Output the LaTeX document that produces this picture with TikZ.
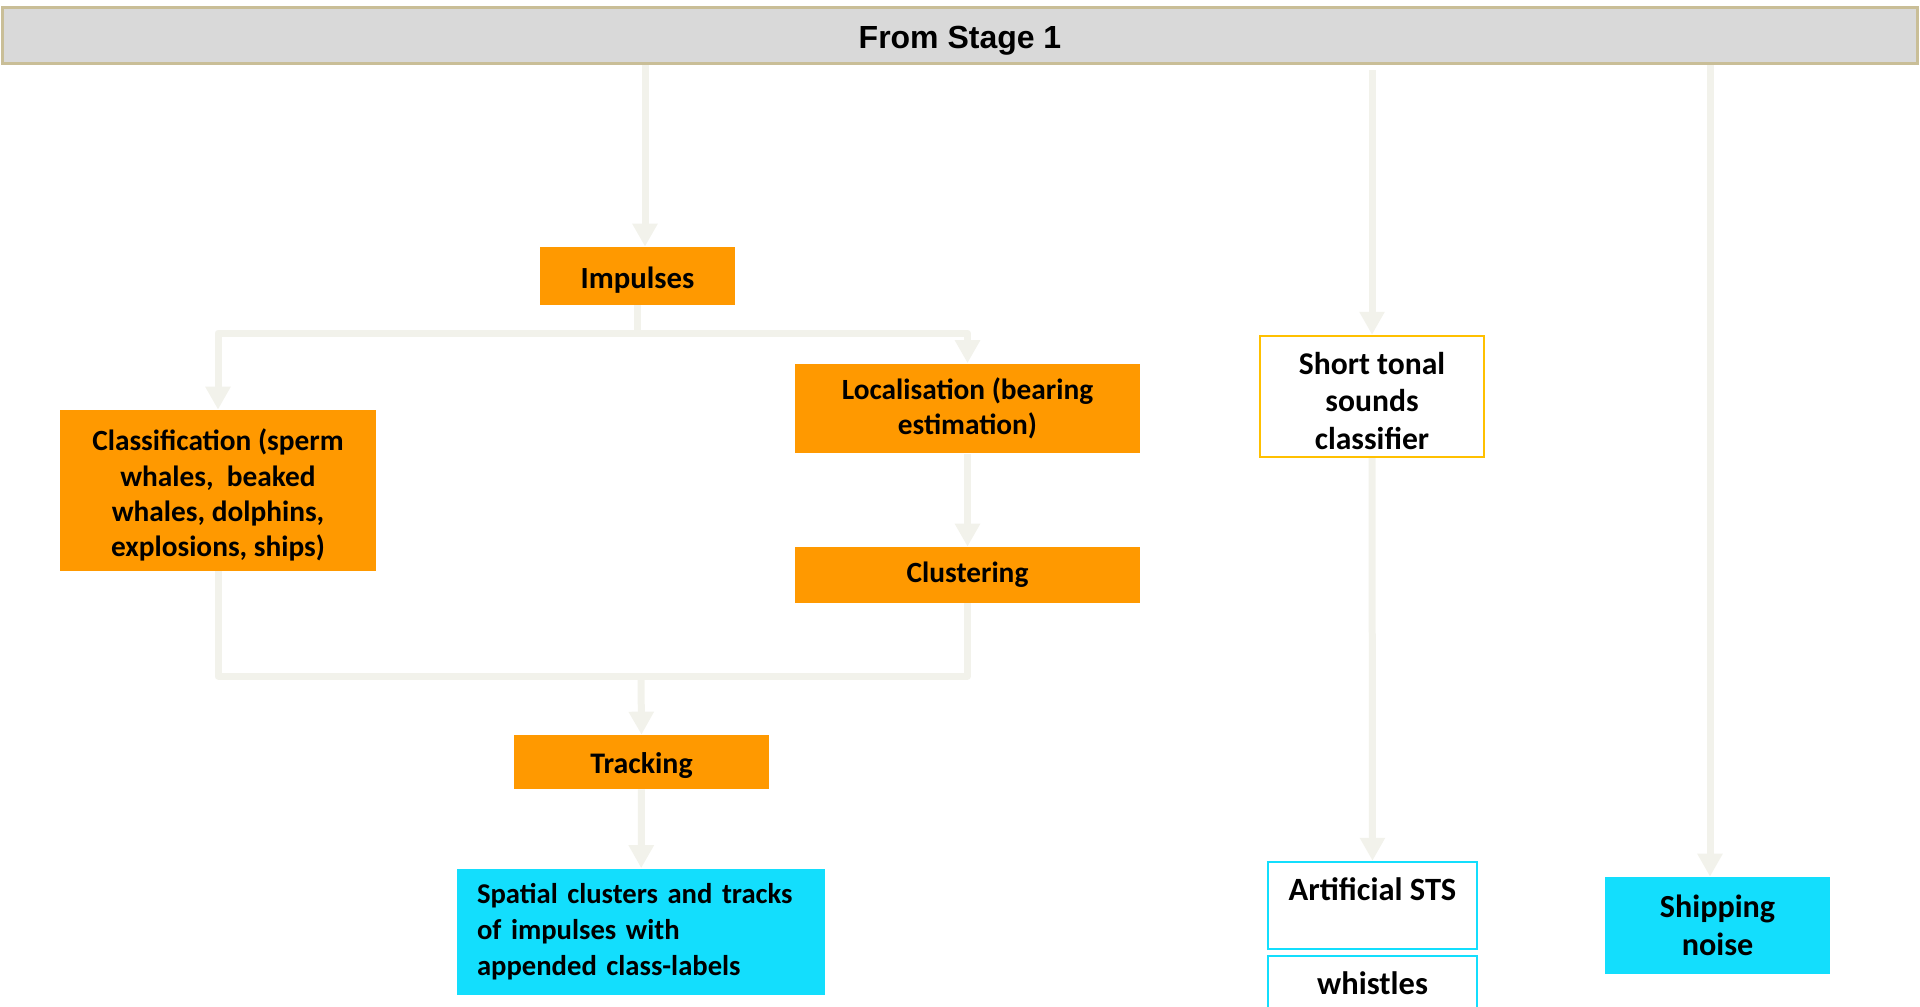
\documentclass[tikz,border=0pt]{standalone}
\usepackage{fontspec}
\setmainfont{Carlito}
\newfontfamily\headfont{Liberation Sans}
\usetikzlibrary{arrows.meta}

\definecolor{boxorange}{HTML}{FF9900}
\definecolor{boxcyan}{HTML}{13DEFD}
\definecolor{flowgray}{HTML}{F2F2EB}
\definecolor{headfill}{HTML}{D9D9D9}
\definecolor{headline}{HTML}{C9BE97}
\definecolor{stsline}{HTML}{FFC000}

\tikzset{
  stage/.style={fill=boxorange, inner sep=0pt, align=center, font=\fontsize{16.7}{20}\selectfont\bfseries},
  result/.style={fill=boxcyan, inner sep=0pt, align=center, font=\fontsize{18.3}{22}\selectfont\bfseries},
  outline/.style={draw=boxcyan, line width=0.05cm, fill=white, inner xsep=0pt, inner ysep=0.22cm,
    text height=0.55cm, text depth=0.75cm, font=\fontsize{18.5}{20}\selectfont\bfseries},
  flow/.style={draw=flowgray, line width=0.14cm, line join=round, -{Triangle[width=0.48cm,length=0.46cm]}},
  link/.style={draw=flowgray, line width=0.14cm, line join=round}
}

\begin{document}
\begin{tikzpicture}[x=0.02cm, y=-0.02cm]
    \useasboundingbox (0,0) rectangle (1920,1007);

    % Header
    \node[draw=headline, line width=0.06cm, fill=headfill, minimum width=38.3cm, minimum height=1.14cm,
      font=\headfont\fontsize{18.2}{20}\selectfont\bfseries] (header) at (960,35.5) {\rule{0pt}{0.66cm}From Stage 1};

    % Impulse branch
    \node[stage, minimum width=3.9cm, minimum height=1.16cm, font=\fontsize{17.5}{20}\selectfont\bfseries] (impulses) at (637.5,276) {\rule{0pt}{0.6cm}Impulses};
    \node[stage, minimum width=6.32cm, minimum height=3.22cm] (classif) at (218,490.5) {\rule{0pt}{0.62cm}Classification (sperm\\whales,\ \ beaked\\whales, dolphins,\\explosions, ships)};
    \node[stage, minimum width=6.9cm, minimum height=1.8cm] (localis) at (967.5,408.5) {Localisation (bearing\\estimation)};
    \node[stage, minimum width=6.9cm, minimum height=1.12cm] (cluster) at (967.5,575) {Clustering};
    \node[stage, minimum width=5.1cm, minimum height=1.08cm, font=\fontsize{17}{20}\selectfont\bfseries] (tracking) at (641.5,762) {\rule{0pt}{0.55cm}Tracking};
    \node[result, minimum width=7.36cm, minimum height=2.54cm, text width=6.56cm, align=left,
      font=\fontsize{16.3}{20.5}\selectfont\bfseries] (tracks) at (641,932) {Spatial clusters and tracks\\of impulses with\\appended class-labels};

    % Tonal branch
    \node[draw=stsline, line width=0.05cm, fill=white, minimum width=4.48cm, minimum height=2.42cm, align=center,
      inner sep=0pt, font=\fontsize{18}{21.5}\selectfont\bfseries] (stsclass) at (1372,396.5) {\rule{0pt}{0.62cm}Short tonal\\sounds\\classifier};
    \node[outline, minimum width=4.18cm] (artsts) at (1372.5,905.5) {Artificial STS};
    \node[outline, minimum width=4.18cm] (whistles) at (1372.5,999.5) {whistles};

    % Shipping branch
    \node[result, minimum width=4.5cm, minimum height=1.94cm] (shipping) at (1717.5,925.5) {Shipping\\noise};

    \coordinate (split) at (637.5,333);
    \coordinate (merge) at (641,676);

    % Connectors
    \draw[flow] ([xshift=0.15cm]impulses.north |- header.south) -- ([xshift=0.15cm]impulses.north);
    \draw[link] (impulses.south) -- (split);
    \draw[flow] (split) -| (classif.north);
    \draw[flow] (split) -| (localis.north);
    \draw[flow] (localis) -- (cluster);
    \draw[link] (classif.south) |- (merge);
    \draw[link] (cluster.south) |- (merge);
    \draw[flow] (merge) -- (tracking.north);
    \draw[flow] (tracking) -- (tracks);
    \draw[flow] ([yshift=-0.1cm]header.south -| stsclass.north) -- (stsclass.north);
    \draw[flow] (stsclass) -- (artsts);
    \draw[flow] ([xshift=-0.15cm]shipping.north |- header.south) -- ([xshift=-0.15cm]shipping.north);
  \end{tikzpicture}
\end{document}
